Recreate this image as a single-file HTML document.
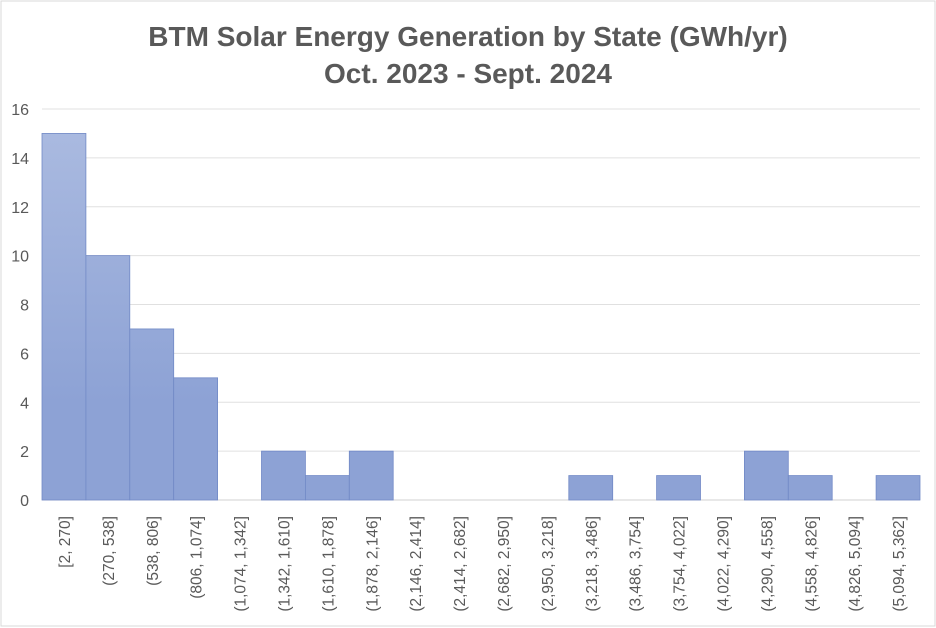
<!DOCTYPE html>
<html><head><meta charset="utf-8"><style>
html,body{margin:0;padding:0;background:#fff;}
svg{display:block;font-family:"Liberation Sans",sans-serif;}
</style></head><body>
<svg id="chart" width="936" height="628">
<defs>
<linearGradient id="barGrad" x1="0" y1="109" x2="0" y2="500" gradientUnits="userSpaceOnUse">
<stop offset="0.05" stop-color="#AABAE0"/>
<stop offset="0.75" stop-color="#8DA2D5"/>
</linearGradient>
</defs>
<rect x="1" y="1" width="934" height="625" fill="#fff" stroke="#d9d9d9"/>
<text x="468" y="46" text-anchor="middle" font-size="28" font-weight="bold" fill="#595959">BTM Solar Energy Generation by State (GWh/yr)</text>
<text x="468" y="83" text-anchor="middle" font-size="28" font-weight="bold" fill="#595959">Oct. 2023 - Sept. 2024</text>
<g id="grid"></g><g id="bars"></g><g id="labels"></g>
</svg>
<script>
const categories=["[2, 270]","(270, 538]","(538, 806]","(806, 1,074]","(1,074, 1,342]","(1,342, 1,610]","(1,610, 1,878]","(1,878, 2,146]","(2,146, 2,414]","(2,414, 2,682]","(2,682, 2,950]","(2,950, 3,218]","(3,218, 3,486]","(3,486, 3,754]","(3,754, 4,022]","(4,022, 4,290]","(4,290, 4,558]","(4,558, 4,826]","(4,826, 5,094]","(5,094, 5,362]"];
const counts=[15,10,7,5,0,2,1,2,0,0,0,0,1,0,1,0,2,1,0,1];
const yTicks=[0,2,4,6,8,10,12,14,16];
const NS="http://www.w3.org/2000/svg";
const L=42,R=920,Y0=500,Y16=109,yMax=16;
const y=v=>Y0-(v/yMax)*(Y0-Y16);
const bw=(R-L)/categories.length;
const x=i=>L+i*bw;
function mk(t,a,p){const e=document.createElementNS(NS,t);for(const k in a)e.setAttribute(k,a[k]);p.appendChild(e);return e;}
const grid=document.getElementById('grid'),bars=document.getElementById('bars'),labels=document.getElementById('labels');
yTicks.forEach(v=>{
  const l=mk('line',{x1:L,x2:R,y1:y(v),y2:y(v),stroke:v===0?'#d0d0d0':'#e0e0e0','stroke-width':1},grid);
  
  
  const t=mk('text',{x:29,y:y(v)+6,'text-anchor':'end','font-size':16,fill:'#595959'},grid);
  t.textContent=v;
  
  
});
counts.forEach((c,i)=>{
  if(c>0){
    const r=mk('rect',{x:x(i),y:y(c),width:bw,height:Y0-y(c),fill:'url(#barGrad)',stroke:'#7189C6','stroke-width':0.8},bars);
    
    
  }
  const cx=x(i)+bw/2+6;
  const t=mk('text',{x:cx,y:516,transform:`rotate(-90 ${cx} 516)`,'text-anchor':'end','font-size':15.5,fill:'#595959'},labels);
  t.textContent=categories[i];
  
  
});
</script>
</body></html>
